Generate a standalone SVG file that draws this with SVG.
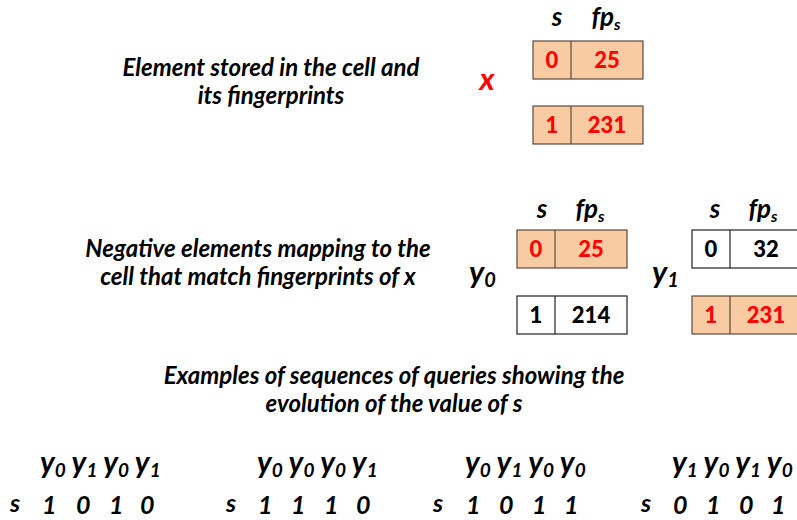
<svg xmlns="http://www.w3.org/2000/svg" width="797" height="520" viewBox="0 0 797 520">
<style>
text{font-family:Lato,"Open Sans","Liberation Sans",sans-serif;font-weight:bold}
.it{font-style:italic;font-size:24px;fill:#000}
.lbl{font-style:italic;font-size:31px}
.hd{font-style:italic;font-size:26px}
.sub{font-size:16px}
.cell{font-size:22px;text-anchor:middle;font-weight:900}
.red{fill:#FF0000}
.blk{fill:#000}
.on{fill:#F8CBA3;stroke:#5a4a3f;stroke-width:1.2}
.off{fill:#fff;stroke:#222;stroke-width:1.2}
.seq{font-style:italic;font-size:30px}
.dig{font-style:italic;font-size:25px}
.ss{font-size:19px}
</style>
<g id="caption1">
<text class="it" x="271" y="76" text-anchor="middle">Element stored in the cell and</text>
<text class="it" x="271" y="104" text-anchor="middle">its fingerprints</text>
</g>
<g id="x-label"><text class="lbl red" x="487" y="90" text-anchor="middle">x</text></g>
<g id="x-headers">
<text class="hd" x="557" y="26" text-anchor="middle">s</text>
<text class="hd" x="606" y="26" text-anchor="middle">fp<tspan class="sub" dy="4">s</tspan></text>
</g>
<g id="x-row0">
<rect class="on" x="533" y="41" width="110" height="38"/><line x1="571" y1="41" x2="571" y2="79" stroke="#5a4a3f" stroke-width="1.2"/>
<text class="cell red" x="552" y="68">0</text><text class="cell red" x="607" y="68">25</text>
</g>
<g id="x-row1">
<rect class="on" x="533" y="106" width="110" height="38"/><line x1="571" y1="106" x2="571" y2="144" stroke="#5a4a3f" stroke-width="1.2"/>
<text class="cell red" x="552" y="133">1</text><text class="cell red" x="607" y="133">231</text>
</g>
<g id="caption2">
<text class="it" x="258" y="257" text-anchor="middle">Negative elements mapping to the</text>
<text class="it" x="258" y="285" text-anchor="middle">cell that match fingerprints of x</text>
</g>
<g id="y0-label"><text class="lbl" x="469" y="283">y<tspan font-size="20" dy="4">0</tspan></text></g>
<g id="y0-headers">
<text class="hd" x="542" y="218" text-anchor="middle">s</text>
<text class="hd" x="590" y="218" text-anchor="middle">fp<tspan class="sub" dy="4">s</tspan></text>
</g>
<g id="y0-row0">
<rect class="on" x="517" y="230" width="110" height="38"/><line x1="555" y1="230" x2="555" y2="268" stroke="#5a4a3f" stroke-width="1.2"/>
<text class="cell red" x="536" y="257">0</text><text class="cell red" x="591" y="257">25</text>
</g>
<g id="y0-row1">
<rect class="off" x="517" y="296" width="110" height="38"/><line x1="555" y1="296" x2="555" y2="334" stroke="#222" stroke-width="1.2"/>
<text class="cell blk" x="536" y="323">1</text><text class="cell blk" x="591" y="323">214</text>
</g>
<g id="y1-label"><text class="lbl" x="652" y="283">y<tspan font-size="20" dy="4">1</tspan></text></g>
<g id="y1-headers">
<text class="hd" x="715" y="218" text-anchor="middle">s</text>
<text class="hd" x="763" y="218" text-anchor="middle">fp<tspan class="sub" dy="4">s</tspan></text>
</g>
<g id="y1-row0">
<rect class="off" x="692" y="230" width="110" height="38"/><line x1="730" y1="230" x2="730" y2="268" stroke="#222" stroke-width="1.2"/>
<text class="cell blk" x="711" y="257">0</text><text class="cell blk" x="766" y="257">32</text>
</g>
<g id="y1-row1">
<rect class="on" x="692" y="296" width="110" height="38"/><line x1="730" y1="296" x2="730" y2="334" stroke="#5a4a3f" stroke-width="1.2"/>
<text class="cell red" x="711" y="323">1</text><text class="cell red" x="766" y="323">231</text>
</g>
<g id="caption3">
<text class="it" x="394" y="384" text-anchor="middle">Examples of sequences of queries showing the</text>
<text class="it" x="394" y="412" text-anchor="middle">evolution of the value of s</text>
</g>
<g id="seq1">
<text class="seq" x="40" y="473">y<tspan class="ss" dy="4">0</tspan><tspan dy="-4"> y</tspan><tspan class="ss" dy="4">1</tspan><tspan dy="-4"> y</tspan><tspan class="ss" dy="4">0</tspan><tspan dy="-4"> y</tspan><tspan class="ss" dy="4">1</tspan></text>
<text class="dig" x="10" y="512" font-size="22">s</text>
<text class="dig" x="42" y="514">1</text><text class="dig" x="76" y="514">0</text><text class="dig" x="109" y="514">1</text><text class="dig" x="140" y="514">0</text>
</g>
<g id="seq2">
<text class="seq" x="257" y="473">y<tspan class="ss" dy="4">0</tspan><tspan dy="-4"> y</tspan><tspan class="ss" dy="4">0</tspan><tspan dy="-4"> y</tspan><tspan class="ss" dy="4">0</tspan><tspan dy="-4"> y</tspan><tspan class="ss" dy="4">1</tspan></text>
<text class="dig" x="226" y="512" font-size="22">s</text>
<text class="dig" x="258" y="514">1</text><text class="dig" x="291" y="514">1</text><text class="dig" x="324" y="514">1</text><text class="dig" x="356" y="514">0</text>
</g>
<g id="seq3">
<text class="seq" x="465" y="473">y<tspan class="ss" dy="4">0</tspan><tspan dy="-4"> y</tspan><tspan class="ss" dy="4">1</tspan><tspan dy="-4"> y</tspan><tspan class="ss" dy="4">0</tspan><tspan dy="-4"> y</tspan><tspan class="ss" dy="4">0</tspan></text>
<text class="dig" x="433" y="512" font-size="22">s</text>
<text class="dig" x="466" y="514">1</text><text class="dig" x="499" y="514">0</text><text class="dig" x="532" y="514">1</text><text class="dig" x="564" y="514">1</text>
</g>
<g id="seq4">
<text class="seq" x="672" y="473">y<tspan class="ss" dy="4">1</tspan><tspan dy="-4"> y</tspan><tspan class="ss" dy="4">0</tspan><tspan dy="-4"> y</tspan><tspan class="ss" dy="4">1</tspan><tspan dy="-4"> y</tspan><tspan class="ss" dy="4">0</tspan></text>
<text class="dig" x="641" y="512" font-size="22">s</text>
<text class="dig" x="673" y="514">0</text><text class="dig" x="706" y="514">1</text><text class="dig" x="739" y="514">0</text><text class="dig" x="771" y="514">1</text>
</g>
</svg>
